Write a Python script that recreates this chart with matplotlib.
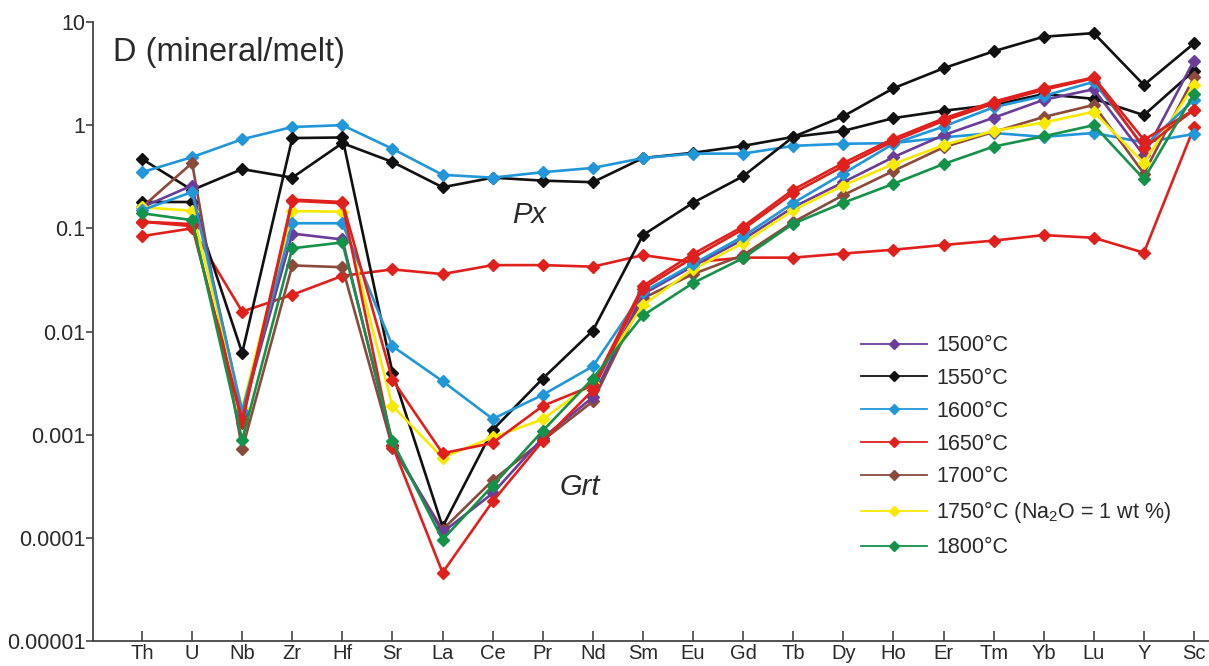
import matplotlib
matplotlib.use("Agg")
import matplotlib.pyplot as plt
from matplotlib.lines import Line2D
from matplotlib.ticker import FixedLocator, FixedFormatter, NullLocator

plt.rcParams['font.family'] = ['Liberation Sans', 'DejaVu Sans']
plt.rcParams['mathtext.fontset'] = 'custom'
plt.rcParams['mathtext.rm'] = 'Liberation Sans'
plt.rcParams['mathtext.it'] = 'Liberation Sans:italic'

elements = ["Th", "U", "Nb", "Zr", "Hf", "Sr", "La", "Ce", "Pr", "Nd", "Sm",
            "Eu", "Gd", "Tb", "Dy", "Ho", "Er", "Tm", "Yb", "Lu", "Y", "Sc"]

# Garnet partition coefficients
grt_1500 = [0.16, 0.26, 0.0016, 0.089, 0.078, 0.0008, 0.000113, 0.00027, 0.00093, 0.0023, 0.023,
            0.043, 0.078, 0.16, 0.28, 0.49, 0.80, 1.18, 1.76, 2.23, 0.51, 4.23]
grt_1550 = [0.18, 0.18, 0.0062, 0.75, 0.76, 0.0040, 0.000128, 0.00111, 0.0035, 0.0102, 0.086,
            0.177, 0.32, 0.77, 1.22, 2.28, 3.56, 5.2, 7.2, 7.8, 2.45, 6.2]
grt_1600 = [0.15, 0.225, 0.0017, 0.112, 0.112, 0.0072, 0.0033, 0.00142, 0.00243, 0.0046, 0.024,
            0.045, 0.0835, 0.176, 0.34, 0.66, 0.97, 1.49, 1.92, 2.63, 0.62, 1.76]
grt_1650a = [0.116, 0.105, 0.0014, 0.19, 0.18, 0.0034, 0.00066, 0.00083, 0.0019, 0.0030, 0.0277,
             0.0565, 0.104, 0.237, 0.43, 0.74, 1.16, 1.69, 2.28, 2.9, 0.72, 1.41]
grt_1650b = [0.116, 0.11, 0.0013, 0.185, 0.175, 0.00078, 0.000046, 0.000225, 0.00087, 0.0027, 0.026,
             0.052, 0.098, 0.22, 0.40, 0.70, 1.10, 1.62, 2.2, 2.85, 0.60, 1.41]
grt_1700 = [0.16, 0.43, 0.00072, 0.0437, 0.042, 0.00075, 0.00012, 0.00036, 0.00088, 0.0021, 0.021,
            0.036, 0.055, 0.115, 0.21, 0.36, 0.61, 0.86, 1.2, 1.57, 0.34, 2.9]
grt_1750 = [0.16, 0.148, 0.0018, 0.147, 0.145, 0.0019, 0.0006, 0.00094, 0.00141, 0.0032, 0.018,
            0.040, 0.072, 0.15, 0.26, 0.42, 0.64, 0.88, 1.06, 1.35, 0.43, 2.45]
grt_1800 = [0.14, 0.12, 0.00089, 0.064, 0.073, 0.00086, 0.000096, 0.00032, 0.00109, 0.0035, 0.0143,
            0.0295, 0.0515, 0.111, 0.177, 0.27, 0.42, 0.62, 0.78, 1.0, 0.30, 2.0]

# Pyroxene partition coefficients
px_1550 = [0.47, 0.235, 0.375, 0.31, 0.67, 0.44, 0.25, 0.31, 0.29, 0.28, 0.48,
           0.54, 0.63, 0.77, 0.88, 1.17, 1.38, 1.57, 2.0, 1.8, 1.25, 3.37]
px_1600 = [0.35, 0.49, 0.73, 0.96, 1.0, 0.59, 0.33, 0.31, 0.35, 0.385, 0.48,
           0.53, 0.53, 0.63, 0.66, 0.67, 0.76, 0.84, 0.77, 0.84, 0.68, 0.82]
px_1650 = [0.084, 0.10, 0.0156, 0.0227, 0.0346, 0.040, 0.036, 0.044, 0.044, 0.0425, 0.055,
           0.047, 0.052, 0.052, 0.057, 0.062, 0.069, 0.076, 0.086, 0.081, 0.058, 0.95]

legend_labels = ["1500°C", "1550°C", "1600°C", "1650°C", "1700°C",
                 "1750°C (Na$_2$O = 1 wt %)", "1800°C"]
ytick_vals = [1e-5, 1e-4, 1e-3, 1e-2, 1e-1, 1, 10]
ytick_labels = ["0.00001", "0.0001", "0.001", "0.01", "0.1", "1", "10"]

c_purple = "#6a3d9a"
c_black = "#111111"
c_blue = "#2196d8"
c_red = "#e0201c"
c_brown = "#8b4a3c"
c_yellow = "#f7ea00"
c_green = "#15924a"
colors = [c_purple, c_black, c_blue, c_red, c_brown, c_yellow, c_green]

fig = plt.figure(figsize=(12.09, 6.66), dpi=100)
ax = fig.add_axes([93/1209, 1 - 641/666, 1 - 93/1209, (641 - 22)/666])

x = list(range(len(elements)))
kw = dict(marker='D', markersize=6.5, linewidth=1.9, clip_on=False)

series = [
    (px_1650, c_red), (px_1550, c_black), (px_1600, c_blue),
    (grt_1550, c_black), (grt_1700, c_brown), (grt_1500, c_purple),
    (grt_1750, c_yellow), (grt_1600, c_blue), (grt_1650b, c_red),
    (grt_1650a, c_red), (grt_1800, c_green),
]
for vals, col in series:
    ax.plot(x, vals, color=col, markerfacecolor=col, markeredgecolor=col, **kw)

ax.set_yscale('log')
ax.set_ylim(1e-5, 10)
ax.set_xlim(-0.978, 21.3)

ax.yaxis.set_major_locator(FixedLocator(ytick_vals))
ax.yaxis.set_major_formatter(FixedFormatter(ytick_labels))
ax.yaxis.set_minor_locator(NullLocator())
ax.set_xticks(x)
ax.set_xticklabels(elements)

for s in ['top', 'right']:
    ax.spines[s].set_visible(False)
for s in ['left', 'bottom']:
    ax.spines[s].set_color('#444444')
    ax.spines[s].set_linewidth(1.3)

ax.tick_params(axis='y', direction='out', length=5, width=1.2, color='#444444',
               labelsize=15.5, labelcolor='#2a2a2a', pad=0.5)
ax.tick_params(axis='x', direction='in', length=7, width=1.2, color='#444444',
               labelsize=14.5, labelcolor='#2a2a2a', pad=2)

fig.text(113/1209, 1 - 52/666, "D (mineral/melt)", fontsize=23.5, color='#2a2a2a',
         va='center', ha='left')
ax.text(7.38, 0.135, "Px", fontsize=21, style='italic', color='#2a2a2a',
        ha='left', va='center')
ax.text(8.34, 0.00031, "Grt", fontsize=21, style='italic', color='#2a2a2a',
        ha='left', va='center')

handles = [Line2D([0], [0], color=c, marker='D', markersize=5, linewidth=1.3,
                  markerfacecolor=c, markeredgecolor=c) for c in colors]
leg = ax.legend(handles, legend_labels, loc='upper left',
                bbox_to_anchor=(846/1209, 1 - 320/666), bbox_transform=fig.transFigure,
                frameon=False, fontsize=15.5, handlelength=3.05, handletextpad=0.45,
                labelspacing=0.55, borderpad=0.2)
for t in leg.get_texts():
    t.set_color('#2a2a2a')

fig.savefig("out.png", dpi=100)
